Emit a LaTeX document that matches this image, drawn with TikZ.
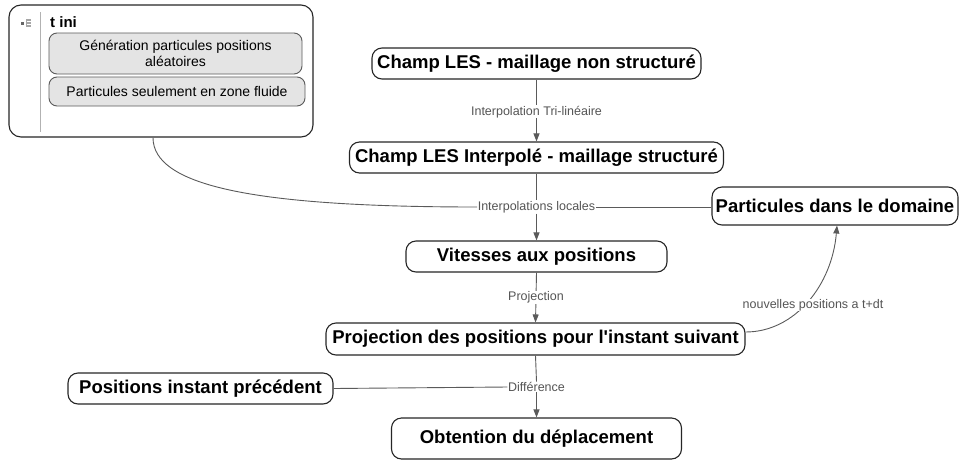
\documentclass[tikz,border=0pt]{standalone}
\usepackage{fontspec}
\setmainfont{Liberation Sans}[Ligatures=TeXOff]
\usetikzlibrary{arrows.meta}
\definecolor{bordc}{HTML}{262626}
\definecolor{linec}{HTML}{5A5A5A}
\definecolor{labc}{HTML}{555555}
\definecolor{innerc}{HTML}{E4E4E4}
\tikzset{
  mainbox/.style={draw=bordc, line width=1.1pt, rounded corners=10pt, fill=white,
    inner sep=0pt, align=center, font=\fontsize{18.5}{22}\selectfont\bfseries},
  innerbox/.style={draw=linec, line width=0.9pt, rounded corners=8pt, fill=innerc,
    inner sep=0pt, align=center, font=\fontsize{14}{15.5}\selectfont},
  conn/.style={draw=linec, line width=0.9pt},
  arr/.style={conn, -{Triangle[length=8pt,width=6pt]}},
  lab/.style={fill=white, inner sep=0.5pt, text=labc, font=\fontsize{12.5}{14}\selectfont}
}
\begin{document}
\begin{tikzpicture}[x=1pt,y=-1pt]
\useasboundingbox (0,0) rectangle (963,461);
% t ini group
\node[draw=bordc, line width=1.1pt, rounded corners=12pt, fill=white, inner sep=0pt,
  minimum width=304pt, minimum height=132pt] (tini) at (161,71) {};
\draw[draw=gray!60, line width=0.9pt] (40,12) -- (40,132);
\fill[gray!80!black] (20.5,21.5) rectangle (23.5,24.5);
\foreach \yy in {20,23,26} {\fill[gray!70] (27,\yy-0.6) rectangle (31,\yy+0.6);}
\draw[gray!70, line width=0.6pt] (26.5,19) -- (26.5,27);
\node[anchor=west, inner sep=0pt, font=\fontsize{15}{17}\selectfont\bfseries] (tinititle) at (50,22) {t ini};
\node[innerbox, minimum width=253pt, minimum height=41pt] (gen) at (175.5,53.5)
  {Génération particules positions\\aléatoires};
\node[innerbox, minimum width=256pt, minimum height=29pt] (fluide) at (177,91.5)
  {Particules seulement en zone fluide};
% main nodes
\node[mainbox, minimum width=329pt, minimum height=31pt] (champ1) at (536.5,63.5) {Champ LES - maillage non structuré};
\node[mainbox, minimum width=374pt, minimum height=31pt] (champ2) at (536.5,157.5) {Champ LES Interpolé - maillage structuré};
\node[mainbox, minimum width=246pt, minimum height=38pt] (part) at (835,206) {Particules dans le domaine};
\node[mainbox, minimum width=261pt, minimum height=31pt] (vit) at (536.5,256.5) {Vitesses aux positions};
\node[mainbox, minimum width=419pt, minimum height=32pt] (proj) at (535.5,339) {Projection des positions pour l'instant suivant};
\node[mainbox, minimum width=265pt, minimum height=31pt] (pos) at (200.5,388.5) {Positions instant précédent};
\node[mainbox, minimum width=290pt, minimum height=41pt] (obt) at (536.5,438.5) {Obtention du déplacement};
% connectors
\draw[arr] (champ1.south) -- (champ2.north) node[lab, pos=0.52] (l1) {Interpolation Tri-linéaire};
\node[lab] (l2) at (536.5,207) {Interpolations locales};
\draw[conn] (champ2.south) -- (l2.north);
\draw[arr] (l2.south) -- (vit.north);
\draw[conn] (part.west |- l2.east) -- (l2.east);
\draw[conn] ([xshift=-8pt]tini.south) .. controls (153,185) and (250,207) .. (l2.west);
\draw[arr] (vit.south) -- (proj.north) node[lab, pos=0.5] (l3) {Projection};
\draw[arr] ([yshift=7pt]proj.east) .. controls (795,332) and (832,285) .. ([xshift=2pt]part.south) ;
\node[lab] (l4) at (813,305) {nouvelles positions a t+dt};
\node[lab] (l5) at (536.5,387) {Différence};
\draw[conn] (proj.south) -- (l5.north);
\draw[arr] (l5.south) -- (obt.north);
\draw[conn] (pos.east) -- (l5.west);
\end{tikzpicture}
\end{document}
